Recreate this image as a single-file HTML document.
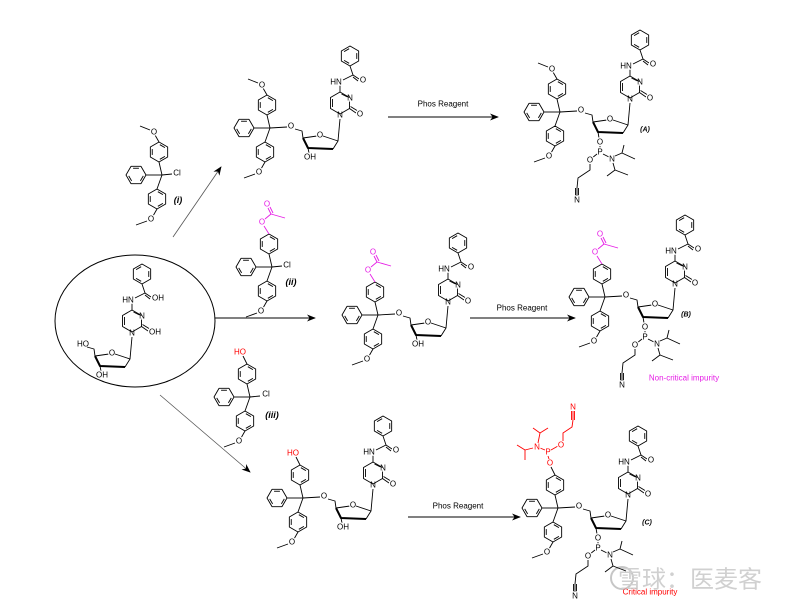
<!DOCTYPE html>
<html><head><meta charset="utf-8">
<style>
html,body{margin:0;padding:0;background:#fff;}
svg{display:block;}
text{font-family:"Liberation Sans","Noto Sans CJK SC",sans-serif;font-size:8px;paint-order:stroke;stroke:#fff;stroke-width:2.5px;text-anchor:middle;dominant-baseline:central;}
.lbl{font-weight:bold;font-style:italic;font-size:9px;}
.plain{stroke:none;}
</style></head>
<body>
<svg id="s" width="800" height="606" viewBox="0 0 800 606" xmlns="http://www.w3.org/2000/svg">
<defs><marker id="ah" viewBox="0 0 10 10" refX="9" refY="5" markerWidth="9" markerHeight="9" markerUnits="userSpaceOnUse" orient="auto"><path d="M0,1 L10,5 L0,9 L3,5 z" fill="#000"/></marker></defs>
<ellipse cx="135" cy="321" rx="80" ry="66" fill="none" stroke="#000" stroke-width="1"/>
<line x1="173" y1="237" x2="221" y2="167" stroke="#555" stroke-width="0.8" marker-end="url(#ah)"/>
<line x1="215" y1="318" x2="315" y2="318" stroke="#000" stroke-width="1" marker-end="url(#ah)"/>
<line x1="160" y1="395" x2="250" y2="472" stroke="#555" stroke-width="0.8" marker-end="url(#ah)"/>
<line x1="388" y1="117" x2="498" y2="117" stroke="#000" stroke-width="1" marker-end="url(#ah)"/>
<line x1="470" y1="318" x2="575" y2="318" stroke="#000" stroke-width="1" marker-end="url(#ah)"/>
<line x1="408" y1="517" x2="520" y2="517" stroke="#000" stroke-width="1" marker-end="url(#ah)"/>
<text x="443" y="104" class="plain">Phos Reagent</text>
<text x="522" y="308" class="plain">Phos Reagent</text>
<text x="458" y="506" class="plain">Phos Reagent</text>
<text x="178" y="200" class="lbl">(i)</text>
<text x="291" y="282" class="lbl">(ii)</text>
<text x="272" y="415" class="lbl">(iii)</text>
<text x="645" y="130" class="lbl" style="font-size:7px">(A)</text>
<text x="686" y="315" class="lbl" style="font-size:7px">(B)</text>
<text x="647" y="523" class="lbl" style="font-size:7px">(C)</text>
<text x="684" y="378" class="plain" style="fill:#e61ee6">Non-critical impurity</text>
<text x="650" y="592" class="plain" style="fill:#f00">Critical impurity</text>
<g opacity="0.55">
<circle cx="622" cy="578" r="11" fill="none" stroke="#999" stroke-width="2"/>
<text x="690" y="580" class="plain" style="font-size:24px;fill:#aaa">雪球：医麦客</text>
</g>
<g id="mol"></g>
</svg>
<script>
var NS="http://www.w3.org/2000/svg",root=document.getElementById("mol");
function grp(x,y){var g=document.createElementNS(NS,"g");g.setAttribute("transform","translate("+x+","+y+")");root.appendChild(g);return g;}
function L(g,pts,c,w){var p=document.createElementNS(NS,"polyline");p.setAttribute("points",pts.map(function(a){return a.join(",")}).join(" "));p.setAttribute("fill","none");p.setAttribute("stroke",c||"#000");p.setAttribute("stroke-width",w||0.9);p.setAttribute("stroke-linejoin","round");g.appendChild(p);}
function T(g,x,y,s,c){var t=document.createElementNS(NS,"text");t.setAttribute("x",x);t.setAttribute("y",y);t.textContent=s;if(c)t.style.fill=c;g.appendChild(t);}
function hex(g,cx,cy,r,rot,c){var v=[];for(var k=0;k<6;k++){var a=(rot+60*k)*Math.PI/180;v.push([cx+r*Math.cos(a),cy+r*Math.sin(a)]);}
 L(g,v.concat([v[0]]),c);
 for(var k=0;k<6;k+=2){var a=v[k],b=v[(k+1)%6];var f=0.78;var ia=[cx+(a[0]-cx)*f,cy+(a[1]-cy)*f],ib=[cx+(b[0]-cx)*f,cy+(b[1]-cy)*f];
  var m=[(ia[0]+ib[0])/2,(ia[1]+ib[1])/2];L(g,[[m[0]+(ia[0]-m[0])*0.75,m[1]+(ia[1]-m[1])*0.75],[m[0]+(ib[0]-m[0])*0.75,m[1]+(ib[1]-m[1])*0.75]],c);}}
function phos(g){
 L(g,[[38,20],[39,26]]);T(g,40,30,"O");L(g,[[40,34],[40,36]]);T(g,40,40,"P");
 L(g,[[37,42],[32,46]]);T(g,30,48,"O");
 L(g,[[30,52],[30,58],[18,66],[17,76]]);L(g,[[17,76],[17,84]]);L(g,[[15.5,76],[15.5,84]]);L(g,[[18.5,76],[18.5,84]]);
 T(g,17,88,"N");
 L(g,[[43,42],[49,45]]);T(g,52,47,"N");
 L(g,[[55,44],[62,41],[75,47]]);L(g,[[62,41],[64,33]]);
 L(g,[[53,51],[55,58],[47,64]]);L(g,[[55,58],[68,63]]);}
function trityl(g,top){
 L(g,[[0,0],[-3,-13]]);hex(g,-3,-23,10,-90);
 L(g,[[0,0],[-16,0]]);hex(g,-26,0,10,0);
 L(g,[[0,0],[-5,14]]);hex(g,-5,24,10,-90);
 L(g,[[-5,34],[-9,41]]);T(g,-11,44,"O");L(g,[[-15,46],[-26,50]]);
 if(top=="OMe"){L(g,[[-3,-33],[-7,-40]]);T(g,-8,-43,"O");L(g,[[-12,-45],[-22,-49]]);}
 if(top=="OAc"){var m="#e61ee6";L(g,[[-3,-33],[-8,-41]],m);T(g,-10,-45,"O",m);L(g,[[-7,-48],[-1,-53],[13,-49]],m);L(g,[[-1,-53],[-4,-59]],m);L(g,[[1,-54],[-2,-60]],m);T(g,-5,-63,"O",m);}
 if(top=="HO"){L(g,[[-3,-33],[-7,-41]]);T(g,-10,-45,"HO","#f00");}
 if(top=="P"){var r="#f00";L(g,[[-3,-33],[-7,-41]]);T(g,-8,-45,"O",r);L(g,[[-9,-49],[-10,-52]],r);T(g,-10,-56,"P",r);
  L(g,[[-13,-58],[-18,-60]],r);T(g,-21,-61,"N",r);L(g,[[-7,-58],[0,-62]],r);T(g,3,-63,"O",r);
  L(g,[[5,-67],[5,-75],[14,-81],[15,-88]],r);L(g,[[15,-88],[15,-97]],r);L(g,[[13.5,-88],[13.5,-97]],r);L(g,[[16.5,-88],[16.5,-97]],r);T(g,15,-101,"N",r);
  L(g,[[-20,-65],[-18,-75],[-25,-80]],r);L(g,[[-18,-75],[-10,-80]],r);
  L(g,[[-25,-60],[-33,-58],[-41,-63]],r);L(g,[[-33,-58],[-33,-48]],r);}
}
function nuc(g,o){
 if(!o.o5)L(g,[[0,0],[17,-1]]);
 T(g,21,-2,o.o5||"O");L(g,[[25,1],[32,3],[33,10]]);
 L(g,[[33,10],[47,8]]);T(g,50,7,"O");L(g,[[53,8],[68,13],[63,21]]);
 L(g,[[63,21],[38,20],[33,10]],"#000",2);
 L(g,[[68,13],[70,-9]]);T(g,70,-13,"N");
 var v=[[70,-14],[79.5,-19.5],[79.5,-30.5],[70,-36],[60.5,-30.5],[60.5,-19.5]];
 L(g,[v[1],v[2]]);T(g,80,-30,"N");L(g,[v[2],v[3],v[4],v[5],v[0],v[1]]);
 L(g,[[62.5,-29],[62.5,-21]]);L(g,[[71.5,-34],[77.5,-31]]);
 L(g,[v[1],[86,-15]]);L(g,[[80.5,-21.5],[87,-17.5]]);T(g,o.oh?93:90,-14,o.oh?"OH":"O");
 L(g,[v[3],[70,-43]]);T(g,66,-46,"HN");L(g,[[73,-48],[83,-53],[89,-49]]);L(g,[[83,-51],[88,-47]]);T(g,o.oh?96:93,-48,o.oh?"OH":"O");
 L(g,[[83,-53],[80,-62]]);hex(g,80,-72,10,90);
 if(o.p){phos(g);}else{L(g,[[38,20],[39,25]]);T(g,40,29,"OH");}
}
var g=grp(162,175);trityl(g,"OMe");L(g,[[0,0],[10,-1]]);T(g,15,-2,"Cl");
g=grp(272,267);trityl(g,"OAc");L(g,[[0,0],[10,-1]]);T(g,15,-2,"Cl");
g=grp(250,397);trityl(g,"HO");L(g,[[0,0],[10,-1]]);T(g,16,-3,"Cl");
g=grp(62,346);nuc(g,{o5:"HO",oh:true});
g=grp(270,128);trityl(g,"OMe");nuc(g,{});
g=grp(378,315);trityl(g,"OAc");nuc(g,{});
g=grp(303,498);trityl(g,"HO");nuc(g,{});
g=grp(560,112);trityl(g,"OMe");nuc(g,{p:true});
g=grp(605,297);trityl(g,"OAc");nuc(g,{p:true});
g=grp(558,508);trityl(g,"P");nuc(g,{p:true});
</script>
</body></html>
